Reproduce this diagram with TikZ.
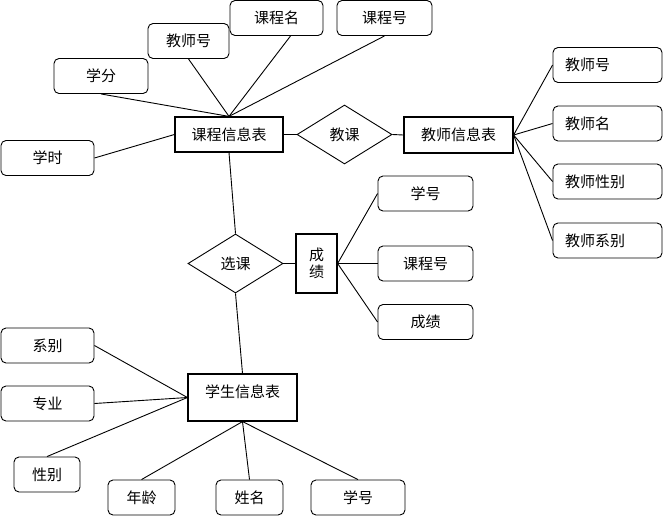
\documentclass[tikz,border=0pt]{standalone}
\usepackage{fontspec}
\newfontfamily\cjk{Noto Sans CJK SC}
\usetikzlibrary{shapes, positioning}

\begin{document}
\begin{tikzpicture}[x=1pt, y=-1pt,
    font=\cjk\fontsize{15}{17}\selectfont,
    attr/.style={draw, rounded corners=5pt, line width=0.9pt, inner sep=0pt, minimum height=35pt},
    tattr/.style={attr, minimum width=109pt, text width=85pt, align=left},
    entity/.style={draw, line width=1.2pt, inner sep=0pt},
    rel/.style={draw, diamond, line width=0.9pt, inner sep=0pt, minimum width=95pt, minimum height=59pt},
    link/.style={line width=0.9pt}]
    \useasboundingbox (0,0) rectangle (663,517);

    % Course entity
    \node[entity, minimum width=108pt, minimum height=35pt] (course) at (229,134.5) {课程信息表};
    \node[attr, minimum width=93pt] (cname) at (276.5,18) {课程名};
    \node[attr, minimum width=81pt] (ctno) at (188.5,41) {教师号};
    \node[attr, minimum width=94pt] (credit) at (101,76) {学分};
    \node[attr, minimum width=93pt] (hours) at (47.5,158) {学时};
    \node[attr, minimum width=95pt] (cno) at (384.5,18) {课程号};

    % Teaching relation
    \node[rel] (teach) at (344.5,134.5) {教课};

    % Teacher entity
    \node[entity, minimum width=109pt, minimum height=36pt] (teacher) at (458.5,135) {教师信息表};
    \node[tattr] (tno) at (607.5,65) {教师号};
    \node[tattr] (tname) at (607.5,123.5) {教师名};
    \node[tattr] (tsex) at (607.5,181.5) {教师性别};
    \node[tattr] (tdept) at (607.5,240.5) {教师系别};

    % Selection relation
    \node[rel] (select) at (235.5,263.5) {选课};
    \node[entity, minimum width=41pt, minimum height=59pt, align=center] (grade) at (316.5,263.5) {成\\绩};
    \node[attr, minimum width=95pt] (gsno) at (425.5,193.5) {学号};
    \node[attr, minimum width=95pt] (gcno) at (425.5,263.5) {课程号};
    \node[attr, minimum width=95pt] (gscore) at (425.5,322) {成绩};

    % Student entity
    \node[entity, minimum width=109pt, minimum height=47pt, text depth=12pt] (student) at (242.5,397.5) {学生信息表};
    \node[attr, minimum width=93pt] (sdept) at (47.5,345.5) {系别};
    \node[attr, minimum width=93pt] (smajor) at (47.5,403.5) {专业};
    \node[attr, minimum width=66pt] (ssex) at (47,474.5) {性别};
    \node[attr, minimum width=67pt] (sage) at (141.5,497.5) {年龄};
    \node[attr, minimum width=67pt] (sname) at (249.5,497.5) {姓名};
    \node[attr, minimum width=94pt] (sno) at (358,497.5) {学号};

    % Links
    \draw[link] (hours.east) -- (course.west);
    \draw[link] (credit.south) -- (course.north);
    \draw[link] (ctno.south) -- (course.north);
    \draw[link] (cname.-52) -- (course.north);
    \draw[link] (cno.south) -- (course.north);
    \draw[link] (course.east) -- (teach.west);
    \draw[link] (teach.east) -- (teacher.west);
    \foreach \t in {tno, tname, tsex, tdept}
        \draw[link] (teacher.east) -- (\t.west);
    \draw[link] (course.south) -- (select.north);
    \draw[link] (select.east) -- (grade.west);
    \foreach \g in {gsno, gcno, gscore}
        \draw[link] (grade.east) -- (\g.west);
    \draw[link] (select.south) -- (student.north);
    \draw[link] (sdept.east) -- (student.west);
    \draw[link] (smajor.east) -- (student.west);
    \draw[link] (ssex.north) -- (student.west);
    \foreach \s in {sage, sname, sno}
        \draw[link] (\s.north) -- (student.south);
\end{tikzpicture}
\end{document}
